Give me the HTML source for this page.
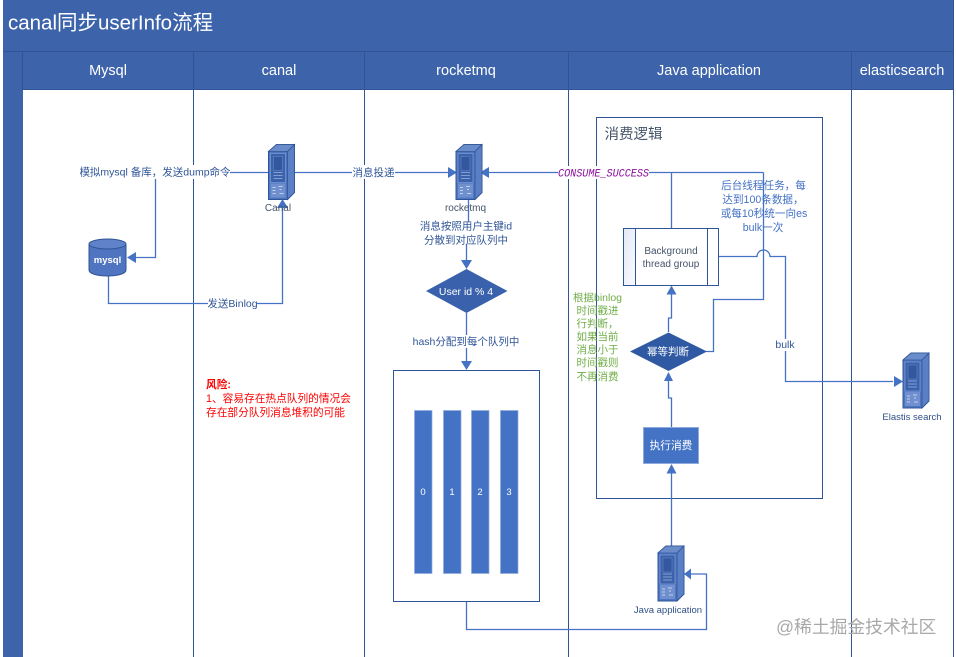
<!DOCTYPE html>
<html><head><meta charset="utf-8"><style>
html,body{margin:0;padding:0;background:#fff}
svg{display:block;font-family:"Liberation Sans","Noto Sans CJK SC",sans-serif}
</style></head><body>
<svg width="956" height="657" viewBox="0 0 956 657" xmlns="http://www.w3.org/2000/svg">
<defs>
<linearGradient id="lg" x1="0" y1="0" x2="1" y2="1"><stop offset="0" stop-color="#e4e9f6"/><stop offset="1" stop-color="#fafbfe"/></linearGradient>
<g id="srv">
<path d="M0 7 L8 0 L26 0 L26 48 L19 55 L0 55Z" fill="#4f75c1" stroke="#2f5597" stroke-width="1"/>
<path d="M0 7 L8 0 L26 0 L19 7Z" fill="#6a8ccb" stroke="#2f5597" stroke-width=".8"/>
<path d="M19 7 L26 0 L26 48 L19 55Z" fill="#5b7fc5" stroke="#2f5597" stroke-width=".8"/>
<rect x="2" y="9" width="15" height="29" fill="#3c62ab" stroke="#7e9bd4" stroke-width=".7"/>
<path d="M5 12h9v14h-9z" fill="#34589f" stroke="#6d8ccb" stroke-width=".5"/>
<path d="M5 28h9M5 31h9M5 34h9" stroke="#9db3de" stroke-width=".7"/>
<rect x="2" y="39" width="15" height="14" fill="#6f8fce"/>
<path d="M4 43h3M4 46h3M4 49h3M10 42h4M11 45h2M11 49h4" stroke="#dfe7f6" stroke-width=".8"/>
</g>
</defs>
<rect x="3" y="0" width="950" height="90" fill="#3d64ab"/>
<rect x="3" y="0" width="20" height="657" fill="#3d64ab"/>
<g stroke="#2f5597" stroke-width="1" fill="none">
<path d="M3 51.500H953M22.500 51.500V90M22.500 89.500H953"/>
<path d="M193.500 51V657M364.500 51V657M568.500 51V657M851.500 51V657M953.500 0V657"/>
</g>
<text x="8" y="29.500" font-size="20.500" fill="#fff">canal同步userInfo流程</text>
<g font-size="14.500" fill="#fff" text-anchor="middle">
<text x="108" y="75">Mysql</text><text x="279" y="75">canal</text><text x="466" y="75">rocketmq</text><text x="709" y="75">Java application</text><text x="902" y="75">elasticsearch</text>
</g>

<rect x="596.500" y="117.500" width="226" height="381" fill="none" stroke="#2f5597"/>
<text x="604.500" y="139" font-size="14.500" fill="#44546a">消费逻辑</text>

<!-- connectors -->
<g fill="none" stroke="#4472c4" stroke-width="1.300">
<path d="M270 172.500H155.500V257.500H134"/>
<path d="M108.500 275V303.500H282.500V206"/>
<path d="M294 172.500H450"/>
<path d="M468.500 200V222"/>
<path d="M466.500 244V260"/>
<path d="M466.500 313V363"/>
<path d="M763.500 172.500H488"/>
<path d="M671.500 172.500V228"/>
<path d="M763.500 172.500V299.500H713.500V351.500H706"/>
<path d="M718 256.500H757a6.500 6.500 0 0 1 13 0H785.500V381.500H893"/>
<path d="M668.500 332V318H671.500V292"/>
<path d="M671.500 427V398H668.500V378"/>
<path d="M671.500 546V470"/>
<path d="M466.500 602V629.500H706.500V574H688"/>
</g>
<g fill="#4472c4">
<path d="M127 257.500L136 252V263Z"/>
<path d="M282.500 199L277 208H288Z"/>
<path d="M457 172.500L448 167V178Z"/>
<path d="M480 172.500L489 167V178Z"/>
<path d="M466.500 269L461 260H472Z"/>
<path d="M466.500 370L461 361H472Z"/>
<path d="M671.500 285.500L666.500 294.500H676.500Z"/>
<path d="M668.500 372L664 381H673Z"/>
<path d="M671.500 464L666.500 473.500H676.500Z"/>
<path d="M684 574L691 568.500V579.500Z"/>
<path d="M903 381.500L894 376V387Z"/>
</g>

<!-- servers -->
<use href="#srv" x="268.500" y="144.500"/>
<use href="#srv" x="456" y="144.500"/>
<use href="#srv" x="903" y="353"/>
<use href="#srv" x="658" y="546"/>

<!-- mysql -->
<path d="M89 245V270C89 278 126 278 126 270V245Z" fill="#4f74c0" stroke="#2f5597"/>
<ellipse cx="107.500" cy="244" rx="18.500" ry="5" fill="#5f82c8" stroke="#2f5597"/>
<text x="107.500" y="263" font-size="9.500" fill="#fff" text-anchor="middle" font-weight="bold">mysql</text>

<!-- diamonds -->
<path d="M466.500 269L507.500 291L466.500 313L426 291Z" fill="#3a62ac"/>
<text x="466" y="295" font-size="10.500" fill="#fff" text-anchor="middle">User id % 4</text>
<path d="M668.500 332.500L707 351.500L668.500 371L630 351.500Z" fill="#2f5aa3"/>
<text x="668" y="355" font-size="10.500" fill="#fff" text-anchor="middle">幂等判断</text>

<!-- boxes -->
<rect x="623.500" y="228.500" width="95" height="57" fill="#fff" stroke="#2f5597"/>
<rect x="624" y="229" width="12" height="56" fill="url(#lg)"/>
<path d="M635.500 228.500V285.500M707.500 228.500V285.500" stroke="#2f5597" fill="none"/>
<text x="671" y="254" font-size="10" fill="#44546a" text-anchor="middle">Background</text>
<text x="671" y="267" font-size="10" fill="#44546a" text-anchor="middle">thread group</text>
<rect x="643.500" y="427.500" width="55" height="36" fill="#4472c4" stroke="#8faadc"/>
<text x="671" y="449" font-size="10.700" fill="#fff" text-anchor="middle">执行消费</text>

<!-- queue -->
<rect x="393.500" y="370.500" width="146" height="231" fill="#fff" stroke="#2f5597"/>
<g fill="#4472c4" stroke="#8faadc" stroke-width=".7">
<rect x="414.500" y="410.500" width="17.500" height="163"/>
<rect x="443.500" y="410.500" width="17.500" height="163"/>
<rect x="471.500" y="410.500" width="17.500" height="163"/>
<rect x="500.500" y="410.500" width="17.500" height="163"/>
</g>
<g font-size="9.500" fill="#fff" text-anchor="middle">
<text x="423" y="495">0</text><text x="452" y="495">1</text><text x="480" y="495">2</text><text x="509" y="495">3</text>
</g>

<!-- connector label backgrounds -->
<g fill="#fff">
<rect x="80" y="165" width="150" height="14"/>
<rect x="352" y="165" width="43" height="14"/>
<rect x="208" y="296" width="49" height="14"/>
<rect x="412" y="335" width="108" height="13"/>
<rect x="558" y="166" width="91" height="13"/>
<rect x="775" y="339" width="19" height="12"/>
</g>

<g font-size="10.500" fill="#2f5597" text-anchor="middle">
<text x="155" y="175.500">模拟mysql 备库，发送dump命令</text>
<text x="373.500" y="176">消息投递</text>
<text x="232.500" y="307">发送Binlog</text>
<text x="466" y="229.500">消息按照用户主键id</text>
<text x="466" y="243.500">分散到对应队列中</text>
<text x="466" y="345">hash分配到每个队列中</text>
<text x="785" y="348">bulk</text>
<text x="278" y="211" fill="#44546a" font-size="10">Canal</text>
<text x="465.500" y="211" fill="#44546a" font-size="10">rocketmq</text>
<text x="668" y="613" fill="#2f4f87" font-size="9.500">Java application</text>
<text x="912" y="420" fill="#2f4f87" font-size="9.500">Elastis search</text>
</g>
<text x="603.500" y="176.500" font-size="11" fill="#8a0f9b" font-style="italic" text-anchor="middle" font-family="Liberation Mono, monospace" textLength="91" lengthAdjust="spacingAndGlyphs">CONSUME_SUCCESS</text>

<g font-size="10.600" fill="#4472c4" text-anchor="middle">
<text x="763.500" y="189">后台线程任务，每</text>
<text x="763" y="203">达到100条数据，</text>
<text x="764" y="217">或每10秒统一向es</text>
<text x="763" y="231">bulk一次</text>
</g>
<g font-size="10.500" fill="#70ad47" text-anchor="middle">
<text x="597.500" y="301">根据binlog</text>
<text x="597.500" y="314">时间戳进</text>
<text x="597.500" y="327">行判断，</text>
<text x="597.500" y="340">如果当前</text>
<text x="597.500" y="353">消息小于</text>
<text x="597.500" y="366">时间戳则</text>
<text x="597.500" y="380">不再消费</text>
</g>
<g font-size="10.700" fill="#f00">
<text x="206" y="388" font-weight="bold">风险:</text>
<text x="206" y="402">1、容易存在热点队列的情况会</text>
<text x="206" y="416">存在部分队列消息堆积的可能</text>
</g>
<text x="776" y="633" font-size="17.800" fill="#a8a8a8">@稀土掘金技术社区</text>
</svg>
</body></html>
